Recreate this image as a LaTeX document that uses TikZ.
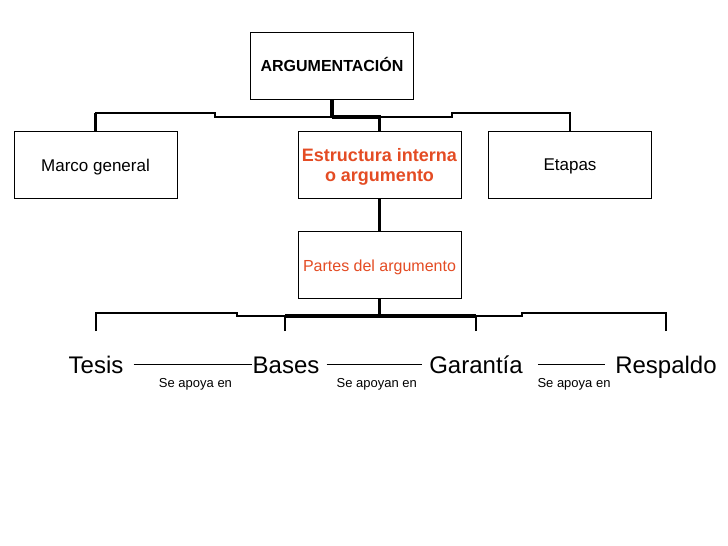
\documentclass[tikz,border=0pt]{standalone}
\usepackage{fontspec}
\setmainfont{Liberation Sans}
\definecolor{orng}{RGB}{228,76,36}
\newcommand{\lowerby}[2]{\raisebox{-#1}[\height][\depth]{#2}}
\begin{document}
\begin{tikzpicture}[x=1pt,y=-1pt,
  box/.style={draw=black,line width=0.9pt,minimum width=163pt,minimum height=67pt,inner sep=0pt,align=center,fill=white},
  fine/.style={line width=1.4pt},
  bus/.style={line width=2.3pt},
  trunk/.style={line width=3.3pt},
  word/.style={inner sep=0pt,text height=18pt,text depth=0pt,font=\fontsize{24}{28}\selectfont},
  rel/.style={line width=1pt},
  lbl/.style={font=\fontsize{13}{15}\selectfont,below=14pt,inner sep=0pt,xshift=2.5pt}
]
\useasboundingbox[fill=white] (0,0) rectangle (728,546);

% boxes
\node[box,font=\bfseries\fontsize{16}{19}\selectfont] (arg) at (332,65.5) {\lowerby{-1pt}{ARGUMENTACIÓN}};
\node[box,font=\fontsize{17}{20}\selectfont] (marco) at (95.5,164.5) {\lowerby{3pt}{Marco general}};
\node[box,font=\bfseries\fontsize{18}{20}\selectfont,text=orng] (estr) at (379.5,164.5)
  {\lowerby{3pt}{\begin{tabular}{@{}c@{}}Estructura interna\\o argumento\end{tabular}}};
\node[box,font=\fontsize{17}{20}\selectfont] (etapas) at (570,164.5) {\lowerby{2pt}{Etapas}};
\node[box,font=\fontsize{16}{19}\selectfont,text=orng] (partes) at (379.5,264.5) {\lowerby{3pt}{Partes del argumento}};

% words
\node[word] (tesis) at (96,364) {Tesis};
\node[word] (bases) at (286,364) {Bases};
\node[word] (garantia) at (476,364) {Garantía};
\node[word] (respaldo) at (666,364) {Respaldo};

\coordinate (tT) at (96,331);
\coordinate (bT) at (285,331);
\coordinate (gT) at (476,331);
\coordinate (rT) at (666,331);

% top tree
\draw[fine] (arg.south) -- (332,117) -- (215,117) -- (215,113) -| (marco.north);
\draw[fine] (arg.south) -- (332,117) -| (estr.north);
\draw[fine] (arg.south) -- (332,117) -- (452,117) -- (452,113) -| (etapas.north);
\draw[trunk] (arg.south) -- (332,118);
\draw[bus] (215,117) -- (452,117);
\draw[trunk] (332,117) -- (381,117);
\draw[bus] (marco.north) -- (95.5,113);
\draw[bus] (estr.north) -- (379.5,117);
\draw[bus] (etapas.north) -- (570,113);

% middle
\draw[bus] (estr.south) -- (partes.north);

% bottom tree
\draw[fine] (partes.south) -- (379.5,316) -- (237,316) -- (237,313) -| (tT);
\draw[fine] (partes.south) -- (379.5,316) -| (bT);
\draw[fine] (partes.south) -- (379.5,316) -| (gT);
\draw[fine] (partes.south) -- (379.5,316) -- (522,316) -- (522,313) -| (rT);
\draw[trunk] (partes.south) -- (379.5,317);
\draw[bus] (237,316) -- (522,316);
\draw[trunk] (285,316) -- (476,316);
\draw[bus] (tT) -- (96,313);
\draw[bus] (bT) -- (285,316);
\draw[bus] (gT) -- (476,316);
\draw[bus] (rT) -- (666,313);

% relations
\draw[rel] ([xshift=10pt]tesis.east) -- (bases.west) node[lbl,midway] {Se apoya en};
\draw[rel] ([xshift=7pt]bases.east) -- ([xshift=-7pt]garantia.west) node[lbl,midway] {Se apoyan en};
\draw[rel] ([xshift=15pt]garantia.east) -- ([xshift=-10pt]respaldo.west) node[lbl,midway] {Se apoya en};
\end{tikzpicture}
\end{document}
